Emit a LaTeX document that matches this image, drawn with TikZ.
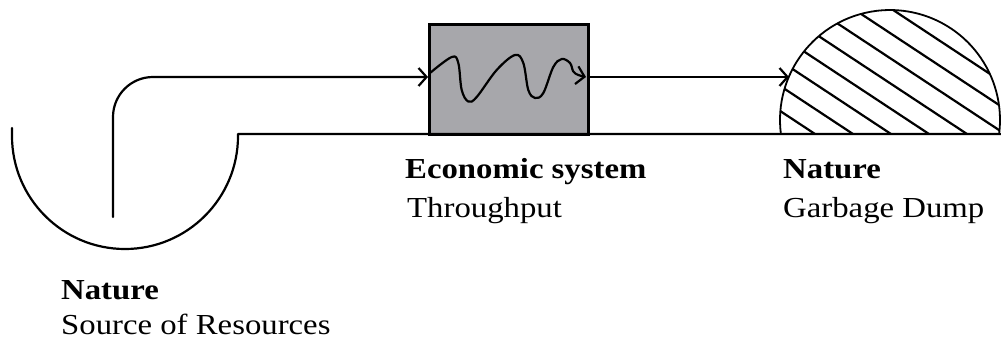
\documentclass[tikz,border=0pt]{standalone}
\usepackage{fontspec}
\setmainfont{Liberation Serif}[FakeStretch=1.13]
\usetikzlibrary{arrows.meta}
\definecolor{boxgray}{RGB}{167,167,171}
\tikzset{
  line/.style={line width=2.2pt, line cap=round, line join=round},
  flow/.style={line, -{Straight Barb[length=8pt,width=18pt,line width=2.2pt]}},
  hatch/.style={line width=2.2pt},
  lbl/.style={anchor=base west, inner sep=0pt, font=\fontsize{29}{35}\selectfont},
  lblb/.style={lbl, font=\fontsize{29}{35}\selectfont\bfseries},
  ecobox/.style={draw, line width=3pt, fill=boxgray, minimum width=159pt, minimum height=109pt, inner sep=0pt}
}
\begin{document}
\begin{tikzpicture}[x=1pt,y=1pt]
\useasboundingbox (0,0) rectangle (1001,341);
\clip (0,0) rectangle (1001,341);
% economic system box
\node[ecobox] (eco) at (508.5,261.5) {};
% source bowl and ground line
\coordinate (bowlL) at (12,213);
\coordinate (bowlR) at (238,207);
\coordinate (groundEnd) at (1001,207);
\draw[line] (bowlL) -- (12,205) arc[start angle=180, end angle=360, radius=113] -- (bowlR) -- (groundEnd);
% dump dome with hatching
\begin{scope}
  \clip (780.9,207) arc[start angle=187.3, end angle=-7.3, radius=110] -- cycle;
  \foreach \k in {0,...,9} {
    \draw[hatch] ({815+38*\k-230},{207+151.8}) -- ({815+38*\k},207);
  }
\end{scope}
\coordinate (domeL) at (780.9,207);
\draw[line, line width=1.8pt] (domeL) arc[start angle=187.3, end angle=-7.3, radius=110];
% flows
\coordinate (srcEnd) at (113,124);
\coordinate (inA) at (428,264);
\coordinate (outA) at (590,264);
\coordinate (dumpIn) at (789,264);
\draw[flow, rounded corners=40pt] (srcEnd) |- (inA);
\draw[flow] (outA) -- (dumpIn);
% wave inside box
\draw[flow] plot[smooth, tension=0.6] coordinates {(430,268) (451.7,284) (458.3,278) (461.7,251) (468.3,239.5) (476.7,244) (496.7,271) (515,286) (523.3,278) (528.3,251) (535,243) (543.3,248) (553.3,274) (561.7,282) (570,278) (573.3,269.5) (578.3,266) (586,264)};
% labels
\node[lblb] (ecoT) at (405,163) {Economic system};
\node[lbl] (ecoS) at (407,124) {Throughput};
\node[lblb] (dumpT) at (783,163) {Nature};
\node[lbl] (dumpS) at (783,124) {Garbage Dump};
\node[lblb] (srcT) at (61,42) {Nature};
\node[lbl] (srcS) at (61,7) {Source of Resources};
\end{tikzpicture}
\end{document}
